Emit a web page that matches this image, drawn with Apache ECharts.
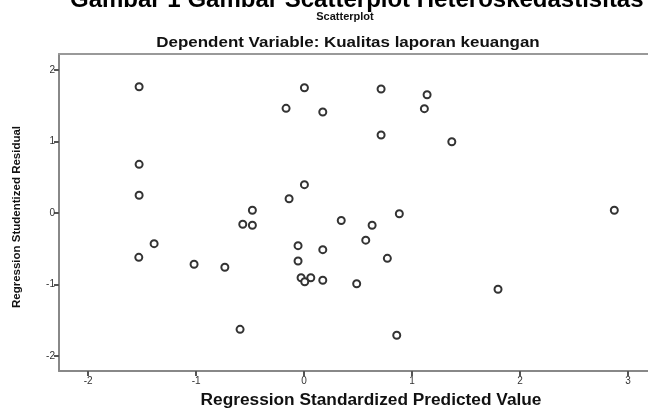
<!DOCTYPE html>
<html>
<head>
<meta charset="utf-8">
<script src="https://cdn.jsdelivr.net/npm/echarts@6/dist/echarts.min.js"></script>
<style>html,body{margin:0;padding:0;background:#fff;}#c{width:648px;height:410px;}</style>
</head>
<body>
<div id="c"></div>
<script>
const xTicks = [-2, -1, 0, 1, 2, 3];
const yTicks = [-2, -1, 0, 1, 2];
const predicted = [-1.528, 0.003, 0.713, 1.139, -0.167, 0.173, 1.114, 0.713, 1.368, -1.528,
  -1.528, 0.003, -0.139, -0.479, 0.882, 2.873, 0.344, -0.568, -0.479, 0.630,
  -1.389, 0.571, -1.531, -0.056, 0.173, 0.771, -1.019, -0.734, -0.056, -0.028,
  0.062, 0.006, 0.173, 0.487, 1.796, -0.593, 0.858];
const residual = [1.766, 1.752, 1.734, 1.654, 1.464, 1.413, 1.459, 1.091, 0.997, 0.681,
  0.248, 0.396, 0.200, 0.038, -0.010, 0.038, -0.105, -0.158, -0.172, -0.172,
  -0.429, -0.380, -0.620, -0.457, -0.513, -0.634, -0.717, -0.759, -0.671, -0.905,
  -0.905, -0.961, -0.941, -0.989, -1.067, -1.627, -1.710];
const mainTitle = 'Gambar 1 Gambar Scatterplot Heteroskedastisitas';
const chartTitle = 'Scatterplot';
const subTitle = 'Dependent Variable: Kualitas laporan keuangan';
const xName = 'Regression Standardized Predicted Value';
const yName = 'Regression Studentized Residual';

const points = predicted.map((x, i) => [x, residual[i]]);
const FONT = '"Liberation Sans", Arial, sans-serif';
const chart = echarts.init(document.getElementById('c'), null, {renderer: 'canvas'});
const xMin = -2.27, xMax = 3.185;
chart.setOption({
  backgroundColor: '#fff',
  animation: false,
  graphic: [
    {type: 'text', left: 70, top: -12, style: {text: mainTitle, font: 'bold 24px ' + FONT, fill: '#000'}},
    {type: 'text', x: 345, y: 17, style: {text: chartTitle, font: 'bold 11px ' + FONT, fill: '#111', align: 'center', verticalAlign: 'middle'}},
    {type: 'text', x: 348, y: 43, scaleX: 1.13, style: {text: subTitle, font: 'bold 15px ' + FONT, fill: '#111', align: 'center', verticalAlign: 'middle'}},
    {type: 'text', x: 371, y: 401, scaleX: 1.08, style: {text: xName, font: 'bold 16px ' + FONT, fill: '#111', align: 'center', verticalAlign: 'middle'}},
    {type: 'text', x: 17, y: 217, rotation: Math.PI / 2, style: {text: yName, font: 'bold 11.5px ' + FONT, fill: '#111', align: 'center', verticalAlign: 'middle'}}
  ],
  grid: {left: 59, top: 54, right: 0, height: 317, show: false},
  xAxis: [{
    type: 'value', min: xMin, max: xMax, position: 'bottom',
    axisLine: {show: true, onZero: false, lineStyle: {color: '#888', width: 2}},
    axisTick: {show: true, length: 5, customValues: xTicks, lineStyle: {color: '#555', width: 2}},
    axisLabel: {customValues: xTicks, fontSize: 10, color: '#333', margin: 5, fontFamily: FONT},
    splitLine: {show: false}
  }, {
    type: 'value', min: xMin, max: xMax, position: 'top',
    axisLine: {show: true, onZero: false, lineStyle: {color: '#999', width: 2}},
    axisTick: {show: false}, axisLabel: {show: false}, splitLine: {show: false}
  }],
  yAxis: {
    type: 'value', min: -2.21, max: 2.224,
    axisLine: {show: true, onZero: false, lineStyle: {color: '#888', width: 2}},
    axisTick: {show: true, length: 5, customValues: yTicks, lineStyle: {color: '#555', width: 2}},
    axisLabel: {customValues: yTicks, fontSize: 10, color: '#333', margin: 4, fontFamily: FONT},
    splitLine: {show: false}
  },
  series: [{
    type: 'scatter',
    data: points,
    xAxisIndex: 0,
    symbol: 'circle',
    symbolSize: 7,
    itemStyle: {color: '#fff', borderColor: '#333', borderWidth: 2, opacity: 1}
  }]
});
</script>
</body>
</html>
